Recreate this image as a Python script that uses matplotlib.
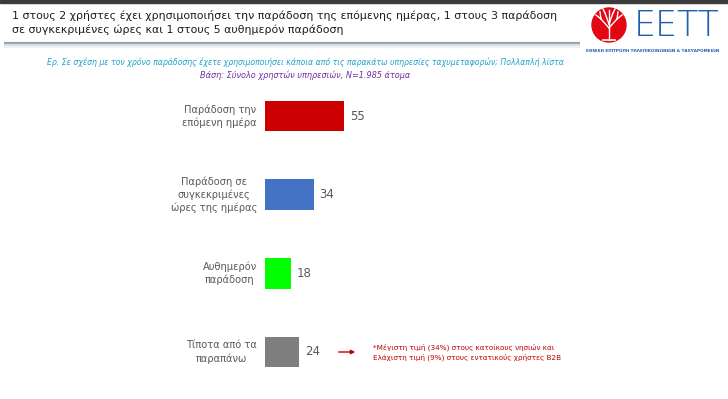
import matplotlib.pyplot as plt
import matplotlib.patches as mpatches

# data
categories = ['Παράδοση την\nεπόμενη ημέρα',
              'Παράδοση σε\nσυγκεκριμένες\nώρες της ημέρας',
              'Αυθημερόν\nπαράδοση',
              'Τίποτα από τα\nπαραπάνω']
values = [55, 34, 18, 24]
bar_colors = ['#cc0000', '#4472c4', '#00ff00', '#7f7f7f']

title = ('1 στους 2 χρήστες έχει χρησιμοποιήσει την παράδοση της επόμενης ημέρας, 1 στους 3 παράδοση\n'
         'σε συγκεκριμένες ώρες και 1 στους 5 αυθημερόν παράδοση')
question = 'Ερ. Σε σχέση με τον χρόνο παράδοσης έχετε χρησιμοποιήσει κάποια από τις παρακάτω υπηρεσίες ταχυμεταφορών; Πολλαπλή λίστα'
base = 'Βάση: Σύνολο χρηστών υπηρεσιών, Ν=1.985 άτομα'
note = '*Μέγιστη τιμή (34%) στους κατοίκους νησιών και\nΕλάχιστη τιμή (9%) στους εντατικούς χρήστες Β2Β'

W, H = 728, 399
fig = plt.figure(figsize=(W / 100, H / 100), dpi=100)
fig.patch.set_facecolor('white')


def px(x, y):
    # pixel coords (from top-left) to figure fraction
    return x / W, 1 - y / H


# background layer for decorations
bg = fig.add_axes([0, 0, 1, 1])
bg.set_xlim(0, W)
bg.set_ylim(H, 0)
bg.axis('off')

# dark strip at the very top
bg.add_patch(mpatches.Rectangle((0, 0), W, 3, color='#3c3c3c'))

# title
bg.text(12, 22.5, title, fontsize=7.9, color='#1e1e1e', va='center', ha='left',
        linespacing=1.3, family='DejaVu Sans')

# separator line with soft shadow
bg.plot([4, 580], [43, 43], color='#9aa4ad', lw=1.6, solid_capstyle='butt')
bg.plot([4, 580], [45, 45], color='#d9dee2', lw=1.5, solid_capstyle='butt')
bg.plot([4, 580], [47, 47], color='#eef1f3', lw=1.5, solid_capstyle='butt')

# logo: red circle with white tree
bg.add_patch(mpatches.Circle((609, 25), 17, color='#e30613'))
trunk = [((609, 40), (609, 24)), ((609, 28), (601, 19)), ((609, 28), (617, 19)),
         ((609, 24), (605, 13)), ((609, 24), (613, 13)), ((601, 19), (596, 15)),
         ((601, 19), (600, 12)), ((617, 19), (622, 15)), ((617, 19), (618, 12)),
         ((605, 13), (603, 9)), ((613, 13), (615, 9)), ((609, 24), (609, 10))]
for (x0, y0), (x1, y1) in trunk:
    bg.plot([x0, x1], [y0, y1], color='white', lw=1.0)
bg.plot([603, 615], [40, 40], color='white', lw=1.2)
bg.text(677, 26, 'EETT', fontsize=25, color='#1f5faf', ha='center', va='center',
        family='DejaVu Sans', fontweight='light')
bg.text(653, 51, 'ΕΘΝΙΚΗ ΕΠΙΤΡΟΠΗ ΤΗΛΕΠΙΚΟΙΝΩΝΙΩΝ & ΤΑΧΥΔΡΟΜΕΙΩΝ', fontsize=3.0,
        color='#1f5faf', ha='center', va='center', fontweight='bold')

# question and base
bg.text(305, 62, question, fontsize=5.6, color='#1fa3c9', style='italic',
        ha='center', va='center')
bg.text(305, 75, base, fontsize=5.9, color='#7030a0', style='italic',
        ha='center', va='center')

# bar chart axes: 0 at x=265px, 1.436 px per unit; rows centred at 116 + 78.6*i
px_per_unit = 79 / 55
ax_left, ax_w = 265, 100 * px_per_unit
ax_top, ax_bot = 116 - 39.3, 352 + 39.3
l, b = px(ax_left, ax_bot)
ax = fig.add_axes([l, b, ax_w / W, (ax_bot - ax_top) / H])
ax.set_xlim(0, 100)
ax.set_ylim(3.5, -0.5)
ax.axis('off')
ax.patch.set_alpha(0)

ypos = list(range(len(categories)))
ax.barh(ypos, values, height=0.39, color=bar_colors)
for y, v, c in zip(ypos, values, categories):
    ax.text(v + 4, y, str(v), fontsize=8.5, color='#595959', va='center', ha='left')
    ax.text(-5.5, y, c, fontsize=7.1, color='#595959', va='center', ha='right',
            multialignment='center', linespacing=1.3)

# annotation arrow and note
bg.annotate('', xy=(358, 352), xytext=(336, 352),
            arrowprops=dict(arrowstyle='-|>', color='#c00000', lw=1.0,
                            mutation_scale=6))
bg.text(373, 352.5, note, fontsize=5.2, color='#c00000', ha='left', va='center',
        linespacing=1.35)

fig.savefig('out.png', dpi=100, facecolor='white')
